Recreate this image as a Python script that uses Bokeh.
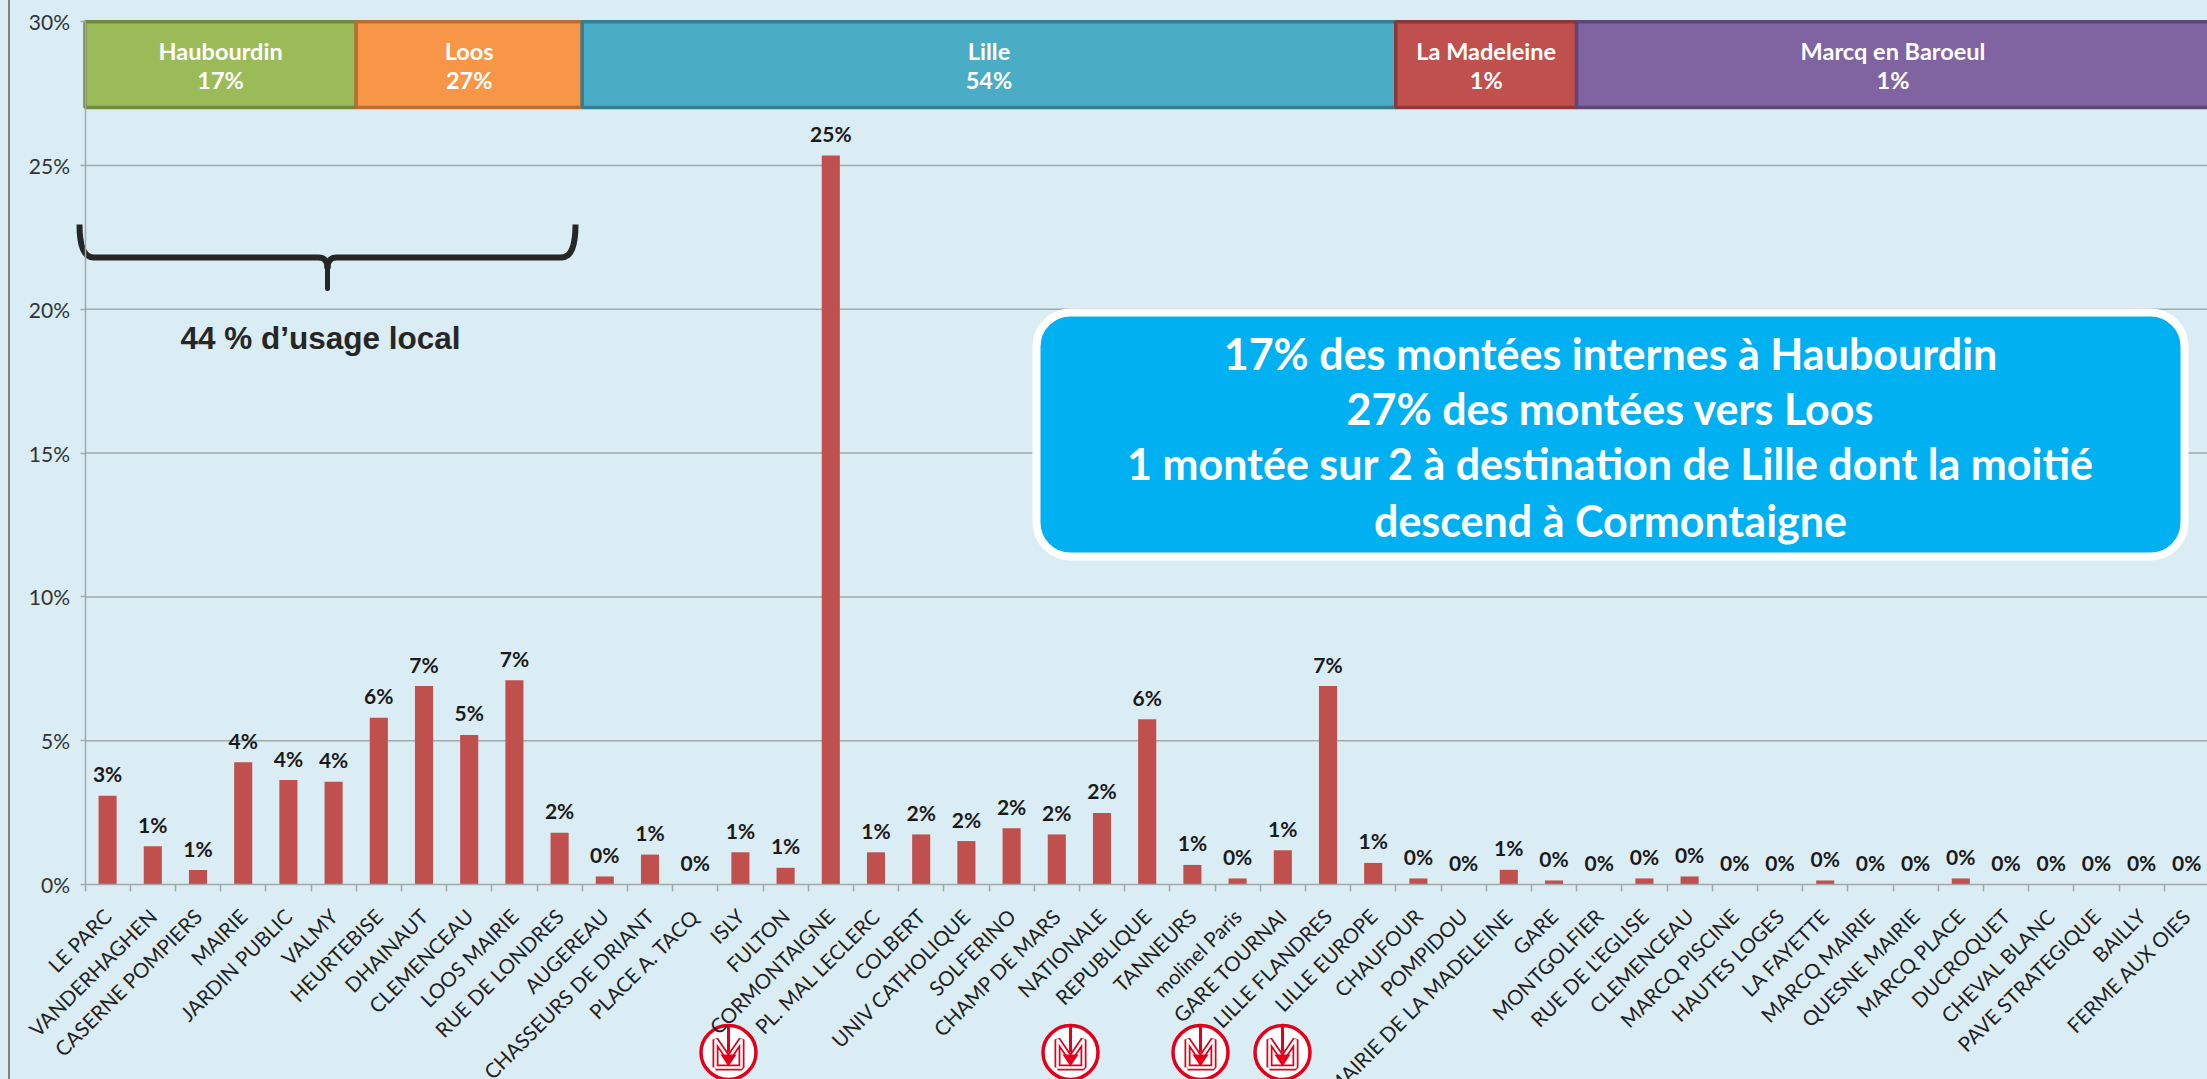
from bokeh.plotting import figure
from bokeh.embed import file_html
from bokeh.resources import INLINE
from bokeh.core.properties import value
from bokeh.models import (LinearAxis, FixedTicker, Range1d, BoxAnnotation)

# ---------- data ----------
stops = ["LE PARC", "VANDERHAGHEN", "CASERNE POMPIERS", "MAIRIE", "JARDIN PUBLIC", "VALMY",
         "HEURTEBISE", "DHAINAUT", "CLEMENCEAU", "LOOS MAIRIE", "RUE DE LONDRES",
         "AUGEREAU", "CHASSEURS DE DRIANT", "PLACE A. TACQ", "ISLY", "FULTON", "CORMONTAIGNE",
         "PL. MAL LECLERC", "COLBERT", "UNIV CATHOLIQUE", "SOLFERINO", "CHAMP DE MARS",
         "NATIONALE", "REPUBLIQUE", "TANNEURS", "molinel Paris", "GARE TOURNAI",
         "LILLE FLANDRES", "LILLE EUROPE", "CHAUFOUR", "POMPIDOU",
         "MAIRIE DE LA MADELEINE", "GARE", "MONTGOLFIER", "RUE DE L'EGLISE",
         "CLEMENCEAU", "MARCQ PISCINE", "HAUTES LOGES", "LA FAYETTE", "MARCQ MAIRIE",
         "QUESNE MAIRIE", "MARCQ PLACE", "DUCROQUET", "CHEVAL BLANC", "PAVE STRATEGIQUE",
         "BAILLY", "FERME AUX OIES"]
shares = [3.09, 1.33, 0.50, 4.25, 3.63, 3.57, 5.80, 6.90, 5.20, 7.10, 1.80,
          0.28, 1.04, 0.0, 1.12, 0.58, 25.35, 1.12, 1.74, 1.51, 1.96, 1.74,
          2.49, 5.75, 0.68, 0.21, 1.19, 6.90, 0.75, 0.21, 0.0,
          0.51, 0.14, 0.0, 0.21, 0.28, 0.0, 0.0, 0.14, 0.0, 0.0, 0.21, 0.0, 0.0, 0.0, 0.0, 0.0]
share_labels = ["3%", "1%", "1%", "4%", "4%", "4%", "6%", "7%", "5%", "7%", "2%",
                "0%", "1%", "0%", "1%", "1%", "25%", "1%", "2%", "2%", "2%", "2%",
                "2%", "6%", "1%", "0%", "1%", "7%", "1%", "0%", "0%",
                "1%", "0%", "0%", "0%", "0%", "0%", "0%", "0%", "0%", "0%", "0%", "0%", "0%", "0%", "0%", "0%"]
zones = ["Haubourdin", "Loos", "Lille", "La Madeleine", "Marcq en Baroeul"]
zone_sizes = [6, 5, 18, 4, 14]
zone_shares = ["17%", "27%", "54%", "1%", "1%"]
zone_fill = ["#9BBB59", "#F79646", "#4BACC6", "#C0504D", "#8064A2"]
zone_line = ["#71893F", "#B96D30", "#357D91", "#8C3836", "#5C4776"]
y_ticks = [0, 5, 10, 15, 20, 25, 30]
callout = ["17% des montées internes à Haubourdin", "27% des montées vers Loos",
           "1 montée sur 2 à destination de Lille dont la moitié", "descend à Cormontaigne"]

# ---------- page geometry (page pixels -> data) ----------
BG = "#DAECF4"
W, H = 2207, 1079
STEP, X0 = 45.2, 107.1     # px per stop, px of first stop
UNIT, Y0 = 28.76, 884.0    # px per 1 %, px of 0 %
X = lambda px: (px - X0) / STEP
Y = lambda py: (Y0 - py) / UNIT

p = figure(width=W, height=H, output_backend="svg", toolbar_location=None,
           x_axis_location=None, y_axis_location=None, min_border=0,
           x_range=Range1d(X(0), X(W)), y_range=Range1d(Y(H), Y(0)),
           background_fill_color=BG, border_fill_color=BG, outline_line_color=None)
p.grid.visible = False

GRID = "#A3A8AA"
xs = list(range(len(stops)))
n = len(stops)

# grid lines
grid_y = [t for t in y_ticks if 0 < t < 30]
p.segment([-0.5] * len(grid_y), grid_y, [n - 0.5] * len(grid_y), grid_y,
          line_color=GRID, line_width=1.5, level="underlay")

# bars
p.vbar(x=xs, top=shares, bottom=0, width=0.4, fill_color="#C0504D", line_color=None)

# axes
ya = LinearAxis(fixed_location=-0.5, ticker=FixedTicker(ticks=y_ticks), bounds=(0, 30),
                major_label_overrides={t: f"{t}%" for t in y_ticks},
                axis_line_color=GRID, axis_line_width=1.5, major_tick_line_color=GRID,
                major_tick_line_width=1.5, major_tick_in=0, major_tick_out=5, minor_tick_line_color=None,
                major_label_text_font="Lato", major_label_text_font_size="21px",
                major_label_text_color="#333333", major_label_standoff=10)
p.add_layout(ya, "left")

xa = LinearAxis(fixed_location=0,
                ticker=FixedTicker(ticks=xs, minor_ticks=[i - 0.5 for i in range(n + 1)]),
                bounds=(-0.5, n - 0.5), axis_line_color=GRID, axis_line_width=1.5,
                major_tick_line_color=None, major_tick_in=0, major_tick_out=0,
                minor_tick_line_color=GRID, minor_tick_line_width=1.5,
                minor_tick_in=0, minor_tick_out=7,
                major_label_overrides={i: s for i, s in enumerate(stops)},
                major_label_orientation=0.785, major_label_standoff=21,
                major_label_text_font="Lato", major_label_text_font_size="20.5px",
                major_label_text_color="#222222")
p.add_layout(xa, "below")

# value labels
p.text(x=xs, y=shares, text=share_labels, text_font=value("Lato"), text_font_style="bold",
       text_font_size="21px", text_color="#1A1A1A", text_align="center", text_baseline="middle",
       y_offset=-22)

# zone boxes
starts = [sum(zone_sizes[:i]) - 0.5 for i in range(len(zones))]
ends = [s + z for s, z in zip(starts, zone_sizes)]
p.quad(left=starts, right=ends, top=30, bottom=Y(107), fill_color=zone_fill, line_color=zone_line, line_width=3.5)
mids = [(s + e) / 2 for s, e in zip(starts, ends)]
p.text(x=mids, y=Y(50), text=zones, text_font=value("Lato"), text_font_style="bold", text_font_size="23.5px",
       text_color="#FFFFFF", text_align="center", text_baseline="middle")
p.text(x=mids, y=Y(79), text=zone_shares, text_font=value("Lato"), text_font_style="bold", text_font_size="23.5px",
       text_color="#FFFFFF", text_align="center", text_baseline="middle")

# brace "44 % d'usage local"
def quad_curve(a, c, b, k=8):
    return [((1 - t) ** 2 * a[0] + 2 * (1 - t) * t * c[0] + t ** 2 * b[0],
             (1 - t) ** 2 * a[1] + 2 * (1 - t) * t * c[1] + t ** 2 * b[1])
            for t in [i / k for i in range(k + 1)]]
path = (quad_curve((79, 224), (79, 257), (93, 257)) +
        quad_curve((318, 257), (327, 257), (327, 268)))
path_r = (quad_curve((575, 224), (575, 257), (561, 257)) +
          quad_curve((336, 257), (327, 257), (327, 268)))
for pts in (path, path_r):
    p.line([X(a) for a, _ in pts], [Y(b) for _, b in pts], line_color="#262626", line_width=6, line_join="round")
p.line([X(327), X(327)], [Y(262), Y(288)], line_color="#262626", line_width=5, line_cap="round")
p.text(x=[X(320)], y=[Y(337)], text=["44 % d’usage local"], text_font=value("Liberation Sans"),
       text_font_style="bold", text_font_size="31.5px", text_color="#262626",
       text_align="center", text_baseline="middle")

# callout
p.add_layout(BoxAnnotation(left=X(1036), right=X(2184), top=Y(312), bottom=Y(556),
                           fill_color="#00B0F0", fill_alpha=1, line_color="#FFFFFF", line_alpha=1, line_width=8,
                           border_radius=34, level="underlay"))
for line, yy in zip(callout, [353, 408, 463, 520]):
    p.text(x=[X(1610)], y=[Y(yy)], text=[line], text_font=value("Lato"), text_font_style="bold",
           text_font_size="43px", text_color="#FFFFFF", text_align="center", text_baseline="middle")

# metro logos
logo_cx = [728, 1070, 1200, 1282]
LY = 1052
for cx in logo_cx:
    p.ellipse(x=[X(cx)], y=[Y(LY)], width=55, height=54, width_units="screen", height_units="screen",
              fill_color="#FFFFFF", line_color="#E2001A", line_width=3.5)
    mx = [cx - 13, cx - 13, cx, cx + 13, cx + 13, cx - 13]
    my = [LY + 15, LY - 13, LY + 6, LY - 13, LY + 15, LY + 15]
    p.line([X(a) for a in mx], [Y(b) for b in my], line_color="#E2001A", line_width=6)
    p.line([X(a) for a in mx], [Y(b) for b in my], line_color="#FFFFFF", line_width=2.5)
    p.line([X(cx), X(cx)], [Y(LY - 26), Y(LY)], line_color="#E2001A", line_width=3)
    p.patch([X(cx - 8), X(cx + 8), X(cx)], [Y(LY + 2), Y(LY + 2), Y(LY + 14)], fill_color="#E2001A", line_color=None)

html = file_html(p, INLINE, title="Montées")
style = ("<style>html,body{background:%s;overflow:hidden}"
         "body::before{content:'';position:fixed;left:8px;top:0;bottom:0;width:2px;background:#7F8284;z-index:5}</style>" % BG)
html = html.replace("</head>", style + "</head>", 1)
open("out.html", "w").write(html)
